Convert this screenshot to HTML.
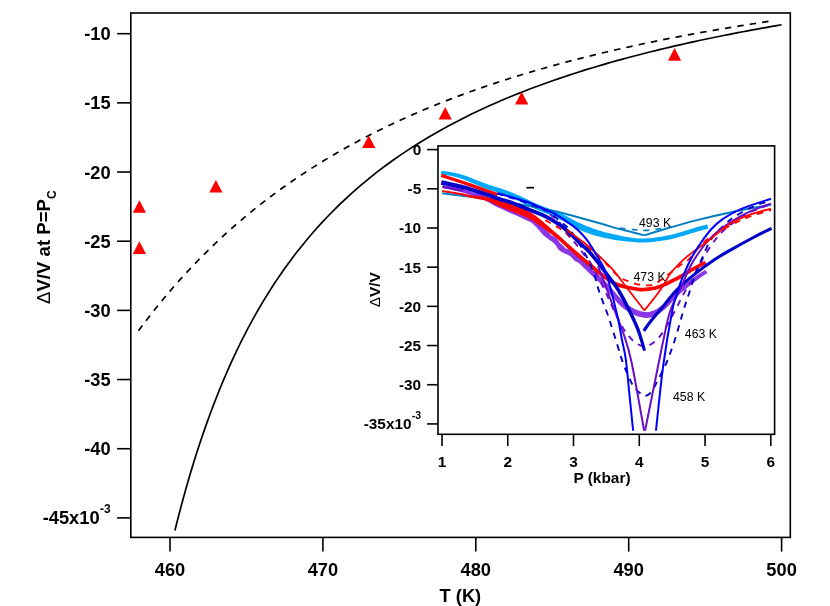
<!DOCTYPE html>
<html><head><meta charset="utf-8"><title>chart</title>
<style>html,body{margin:0;padding:0;background:#fff;overflow:hidden}svg{display:block;will-change:transform}</style>
</head><body>
<svg width="830" height="606" viewBox="0 0 830 606">
<rect width="830" height="606" fill="#fff"/>
<g fill="none" stroke="#000" stroke-width="1.6" stroke-linecap="butt" stroke-linejoin="miter">
<path d="M174.9,530.53L177.02,522.06L179.14,513.81L181.26,505.77L183.38,497.94L185.5,490.3L187.62,482.85L189.74,475.59L191.86,468.51L193.98,461.59L196.1,454.84L198.22,448.25L200.34,441.8L202.46,435.51L204.58,429.36L206.71,423.35L208.83,417.47L210.95,411.72L213.07,406.09L215.19,400.59L217.31,395.2L219.43,389.92L221.55,384.76L223.67,379.7L225.79,374.74L227.91,369.89L230.03,365.13L232.15,360.46L234.27,355.89L236.39,351.4L238.51,347L240.63,342.69L242.75,338.45L244.87,334.3L246.99,330.22L249.11,326.21L251.23,322.28L253.35,318.42L255.47,314.63L257.59,310.91L259.71,307.25L261.83,303.65L263.95,300.12L266.07,296.64L268.19,293.23L270.32,289.87L272.44,286.57L274.56,283.32L276.68,280.13L278.8,276.99L280.92,273.9L283.04,270.85L285.16,267.86L287.28,264.91L289.4,262.01L291.52,259.16L293.64,256.35L295.76,253.58L297.88,250.85L300,248.17L302,245.67L306.84,239.76L311.69,234.06L316.53,228.53L321.38,223.18L326.22,218L331.07,212.98L335.91,208.12L340.76,203.4L345.6,198.82L350.44,194.37L355.29,190.05L360.13,185.86L364.98,181.78L369.82,177.81L374.67,173.95L379.51,170.19L384.36,166.54L389.2,162.98L394.04,159.51L398.89,156.13L403.73,152.83L408.58,149.62L413.42,146.48L418.27,143.42L423.11,140.44L427.96,137.52L432.8,134.68L437.64,131.9L442.49,129.18L447.33,126.52L452.18,123.93L457.02,121.39L461.87,118.9L466.71,116.47L471.56,114.1L476.4,111.77L481.24,109.49L486.09,107.26L490.93,105.07L495.78,102.93L500.62,100.83L505.47,98.78L510.31,96.76L515.16,94.78L520,92.84L524.84,90.94L529.69,89.08L534.53,87.25L539.38,85.45L544.22,83.69L549.07,81.96L553.91,80.26L558.76,78.59L563.6,76.95L568.44,75.34L573.29,73.76L578.13,72.2L582.98,70.68L587.82,69.17L592.67,67.7L597.51,66.25L602.36,64.82L607.2,63.42L612.04,62.03L616.89,60.68L621.73,59.34L626.58,58.02L631.42,56.73L636.27,55.45L641.11,54.2L645.96,52.96L650.8,51.75L655.64,50.55L660.49,49.37L665.33,48.21L670.18,47.07L675.02,45.94L679.87,44.83L684.71,43.73L689.56,42.65L694.4,41.59L699.24,40.54L704.09,39.51L708.93,38.49L713.78,37.48L718.62,36.49L723.47,35.52L728.31,34.55L733.16,33.6L738,32.67L742.84,31.74L747.69,30.83L752.53,29.93L757.38,29.04L762.22,28.16L767.07,27.29L771.91,26.44L776.76,25.6L781.6,24.76" stroke-width="1.7"/>
<path d="M138.5,330.73L142.47,325.41L146.43,320.19L150.4,315.07L154.36,310.05L158.33,305.12L162.29,300.29L166.26,295.54L170.22,290.88L174.19,286.3L178.15,281.81L182.12,277.4L186.08,273.07L190.05,268.81L194.02,264.63L197.98,260.53L201.95,256.49L205.91,252.53L209.88,248.64L213.84,244.81L217.81,241.05L221.77,237.36L225.74,233.73L229.7,230.16L233.67,226.65L237.64,223.2L241.6,219.81L245.57,216.47L249.53,213.19L253.5,209.96L257.46,206.79L261.43,203.67L265.39,200.6L269.36,197.58L273.32,194.61L277.29,191.68L281.25,188.81L285.22,185.97L289.19,183.19L293.15,180.45L297.12,177.75L301.08,175.09L305.05,172.47L309.01,169.9L312.98,167.36L316.94,164.87L320.91,162.41L324.87,159.99L328.84,157.6L332.81,155.26L336.77,152.94L340.74,150.67L344.7,148.42L348.67,146.21L352.63,144.03L356.6,141.89L360.56,139.77L364.53,137.69L368.49,135.64L372.46,133.61L376.42,131.62L380.39,129.65L384.36,127.72L388.32,125.81L392.29,123.92L396.25,122.07L400.22,120.24L404.18,118.43L408.15,116.66L412.11,114.9L416.08,113.17L420.04,111.47L424.01,109.78L427.97,108.12L431.94,106.49L435.91,104.87L439.87,103.28L443.84,101.71L447.8,100.16L451.77,98.63L455.73,97.12L459.7,95.63L463.66,94.16L467.63,92.71L471.59,91.28L475.56,89.87L479.53,88.47L483.49,87.1L487.46,85.74L491.42,84.4L495.39,83.08L499.35,81.77L503.32,80.48L507.28,79.21L511.25,77.95L515.21,76.71L519.18,75.48L523.14,74.27L527.11,73.08L531.08,71.9L535.04,70.73L539.01,69.58L542.97,68.45L546.94,67.32L550.9,66.21L554.87,65.12L558.83,64.03L562.8,62.96L566.76,61.91L570.73,60.86L574.69,59.83L578.66,58.81L582.63,57.81L586.59,56.81L590.56,55.83L594.52,54.86L598.49,53.9L602.45,52.95L606.42,52.01L610.38,51.08L614.35,50.17L618.31,49.26L622.28,48.36L626.25,47.48L630.21,46.6L634.18,45.74L638.14,44.88L642.11,44.04L646.07,43.2L650.04,42.38L654,41.56L657.97,40.75L661.93,39.95L665.9,39.16L669.86,38.38L673.83,37.61L677.8,36.84L681.76,36.09L685.73,35.34L689.69,34.6L693.66,33.87L697.62,33.14L701.59,32.43L705.55,31.72L709.52,31.02L713.48,30.33L717.45,29.64L721.42,28.96L725.38,28.29L729.35,27.63L733.31,26.97L737.28,26.32L741.24,25.68L745.21,25.04L749.17,24.41L753.14,23.78L757.1,23.17L761.07,22.56L765.03,21.95L769,21.35" stroke-width="1.7" stroke-dasharray="6.43 6.127"/>
<rect x="130.8" y="13" width="659.5" height="524.4"/>
<path d="M117.1,33.7 H130.8"/>
<path d="M117.1,102.87 H130.8"/>
<path d="M117.1,172.04 H130.8"/>
<path d="M117.1,241.21 H130.8"/>
<path d="M117.1,310.38 H130.8"/>
<path d="M117.1,379.55 H130.8"/>
<path d="M117.1,448.72 H130.8"/>
<path d="M117.1,517.89 H130.8"/>
<path d="M170,537.4 V551.6"/>
<path d="M322.9,537.4 V551.6"/>
<path d="M475.8,537.4 V551.6"/>
<path d="M628.7,537.4 V551.6"/>
<path d="M781.6,537.4 V551.6"/>
</g>
<g fill="#ff0000">
<path d="M139.42,200.15 L146.02,212.75 L132.82,212.75 Z"/>
<path d="M139.42,241.35 L146.02,253.95 L132.82,253.95 Z"/>
<path d="M215.87,180 L222.47,192.6 L209.27,192.6 Z"/>
<path d="M368.77,135.4 L375.37,148 L362.17,148 Z"/>
<path d="M445.22,106.9 L451.82,119.5 L438.62,119.5 Z"/>
<path d="M521.67,91.8 L528.27,104.4 L515.07,104.4 Z"/>
<path d="M674.57,48.1 L681.17,60.7 L667.97,60.7 Z"/>
</g>
<clipPath id="ic"><rect x="438" y="145.9" width="336.6" height="284.8"/></clipPath>
<rect x="438" y="145.9" width="336.6" height="288.4" fill="#fff"/>
<g clip-path="url(#ic)" fill="none" stroke-linecap="butt" stroke-linejoin="round">
<path d="M440.88,174.12L442.04,174.35L443.49,174.61L445.19,174.91L447.08,175.24L449.13,175.62L451.3,176.05L453.53,176.53L455.79,177.07L458.04,177.66L460.21,178.31L462.4,179.06L464.69,179.92L467.07,180.86L469.51,181.88L472,182.94L474.52,184.02L477.07,185.11L479.62,186.19L482.17,187.23L484.69,188.21L487.19,189.12L489.68,189.99L492.16,190.82L494.63,191.62L497.09,192.43L499.55,193.24L502,194.06L504.45,194.93L506.9,195.84L509.36,196.82L511.85,197.87L514.38,199.01L516.95,200.2L519.53,201.44L522.13,202.7L524.73,203.97L527.31,205.24L529.89,206.48L532.43,207.69L534.94,208.83L537.42,209.91L539.88,210.95L542.31,211.95L544.72,212.92L547.09,213.87L549.41,214.81L551.68,215.73L553.89,216.66L556.03,217.59L558.09,218.54L560.07,219.5L561.97,220.49L563.82,221.49L565.64,222.51L567.43,223.54L569.22,224.56L571.02,225.56L572.84,226.55L574.7,227.51L576.6,228.41L578.49,229.27L580.35,230.09L582.22,230.88L584.09,231.65L585.96,232.39L587.84,233.1L589.73,233.79L591.64,234.44L593.57,235.07L595.52,235.67L597.52,236.23L599.59,236.77L601.67,237.27L603.77,237.73L605.86,238.17L607.92,238.58L609.94,238.96L611.88,239.31L613.74,239.64L615.49,239.95L617.13,240.23L618.67,240.47L620.13,240.68L621.53,240.87L622.89,241.03L624.23,241.18L625.57,241.32L626.93,241.44L628.32,241.56L629.77,241.69L631.21,241.82L632.61,241.97L634.01,242.12L635.43,242.27L636.9,242.41L638.44,242.51L640.05,242.59L641.78,242.62L643.63,242.59L645.62,242.5L647.76,242.35L650.04,242.16L652.44,241.93L654.95,241.65L657.53,241.34L660.17,240.98L662.83,240.59L665.5,240.15L668.14,239.67L670.75,239.15L673.4,238.55L676.15,237.86L678.96,237.09L681.79,236.28L684.59,235.45L687.32,234.62L689.93,233.81L692.38,233.06L694.62,232.39L696.61,231.81L698.39,231.32L700.03,230.87L701.52,230.47L702.87,230.11L704.08,229.79L705.17,229.51L706.14,229.26L706.99,229.04L707.74,228.84L708.38,228.67L707.22,224.33L706.58,224.5L705.85,224.7L704.99,224.93L704.02,225.19L702.93,225.48L701.71,225.81L700.35,226.19L698.85,226.61L697.2,227.07L695.39,227.59L693.36,228.19L691.09,228.89L688.64,229.66L686.04,230.48L683.33,231.33L680.57,232.17L677.8,232.99L675.06,233.76L672.4,234.45L669.85,235.05L667.34,235.57L664.77,236.06L662.17,236.51L659.57,236.93L656.99,237.3L654.47,237.63L652.01,237.92L649.66,238.16L647.44,238.36L645.38,238.5L643.5,238.59L641.78,238.62L640.18,238.59L638.68,238.51L637.25,238.39L635.86,238.25L634.48,238.08L633.1,237.9L631.69,237.7L630.23,237.51L628.81,237.32L627.46,237.12L626.16,236.91L624.89,236.68L623.62,236.43L622.33,236.16L621,235.87L619.6,235.56L618.11,235.22L616.51,234.85L614.79,234.46L612.96,234.04L611.06,233.6L609.1,233.14L607.1,232.66L605.09,232.15L603.08,231.63L601.09,231.08L599.16,230.52L597.28,229.93L595.45,229.32L593.62,228.69L591.81,228.03L590.01,227.35L588.22,226.65L586.42,225.92L584.63,225.17L582.82,224.39L581.01,223.6L579.2,222.79L577.43,221.95L575.68,221.08L573.93,220.17L572.16,219.23L570.37,218.25L568.53,217.26L566.63,216.25L564.67,215.25L562.64,214.25L560.51,213.26L558.32,212.31L556.07,211.39L553.78,210.49L551.46,209.6L549.1,208.7L546.72,207.81L544.32,206.89L541.9,205.95L539.48,204.98L537.06,203.97L534.61,202.9L532.11,201.75L529.56,200.56L526.97,199.32L524.36,198.07L521.73,196.82L519.09,195.59L516.46,194.4L513.84,193.25L511.24,192.18L508.66,191.19L506.11,190.27L503.58,189.4L501.08,188.58L498.59,187.79L496.11,187.01L493.65,186.23L491.2,185.45L488.75,184.64L486.31,183.79L483.84,182.89L481.32,181.93L478.78,180.94L476.22,179.92L473.65,178.9L471.11,177.9L468.6,176.94L466.13,176.04L463.72,175.22L461.39,174.49L459.06,173.85L456.69,173.29L454.32,172.79L452.01,172.36L449.78,171.98L447.69,171.64L445.77,171.35L444.07,171.1L442.65,170.88L441.52,170.68Z" fill="#00a8f8" stroke="none"/>
<path d="M442.2,193.2C445.83,193.67 454.37,194.67 464,196C473.63,197.33 485.55,198.82 500,201.2C514.45,203.58 534.7,206.78 550.7,210.3C566.7,213.82 585.12,219.33 596,222.3C606.88,225.27 610.33,226.55 616,228.1C621.67,229.65 625.28,230.38 630,231.6C634.72,232.82 641.92,234.77 644.3,235.4" stroke="#007dc3" stroke-width="2.0"/>
<path d="M644.3,235.4C646.92,234.58 651.38,233 660,230.5C668.62,228 684.33,223.4 696,220.4C707.67,217.4 718.23,214.98 730,212.5C741.77,210.02 759.77,206.8 766.6,205.5C773.43,204.2 770.27,204.83 771,204.7" stroke="#007dc3" stroke-width="2.0"/>
<path d="M619.5,228.2C621.88,228.45 629.47,229.35 633.8,229.7C638.13,230.05 641.48,230.42 645.5,230.3C649.52,230.18 653.88,229.48 657.9,229C661.92,228.52 667.65,227.67 669.6,227.4" stroke="#007dc3" stroke-width="1.7" stroke-dasharray="6 6"/>
<path d="M442.21,187.97L443.34,188.21L444.84,188.52L446.64,188.88L448.64,189.29L450.77,189.73L452.94,190.19L455.08,190.64L457.09,191.08L458.9,191.49L460.41,191.86L461.65,192.17L462.67,192.45L463.54,192.71L464.29,192.94L464.98,193.18L465.66,193.42L466.4,193.7L467.23,194.01L468.21,194.37L469.38,194.8L470.74,195.28L472.25,195.82L473.88,196.39L475.58,197L477.34,197.64L479.1,198.29L480.83,198.95L482.51,199.59L484.08,200.23L485.51,200.84L486.72,201.39L487.71,201.88L488.56,202.34L489.36,202.8L490.19,203.29L491.11,203.84L492.19,204.45L493.5,205.16L495.08,205.97L497.01,206.9L499.42,208.03L502.32,209.35L505.57,210.82L509.06,212.39L512.64,214L516.2,215.59L519.59,217.11L522.68,218.51L525.35,219.72L527.47,220.7L529.04,221.44L530.21,221.98L531.05,222.37L531.62,222.64L531.96,222.81L531.95,222.87L531.66,222.79L531.57,222.79L531.79,223L532.21,223.35L532.7,223.76L533.23,224.22L533.82,224.75L534.45,225.35L535.1,226L535.76,226.68L536.43,227.37L537.08,228.06L537.73,228.74L538.33,229.39L538.89,229.99L539.39,230.57L539.86,231.14L540.31,231.7L540.74,232.25L541.17,232.78L541.59,233.3L542.02,233.8L542.46,234.29L542.92,234.76L543.41,235.22L543.93,235.68L544.48,236.15L545.06,236.62L545.65,237.08L546.24,237.54L546.83,238L547.41,238.44L547.97,238.87L548.54,239.3L549.11,239.73L549.68,240.11L550.2,240.44L550.67,240.73L551.07,240.98L551.4,241.21L551.66,241.4L551.85,241.56L551.99,241.7L552.15,241.83L552.37,242.02L552.65,242.24L552.95,242.49L553.29,242.79L553.65,243.11L554.02,243.47L554.4,243.86L554.79,244.27L555.18,244.7L555.56,245.14L555.89,245.57L556.19,246.01L556.49,246.48L556.79,246.97L557.09,247.48L557.41,247.99L557.74,248.5L558.09,249.01L558.48,249.49L558.9,249.94L559.32,250.33L559.76,250.69L560.22,251.03L560.69,251.34L561.17,251.64L561.65,251.93L562.14,252.2L562.62,252.46L563.1,252.72L563.61,253L564.16,253.28L564.72,253.53L565.23,253.73L565.69,253.9L566.08,254.05L566.41,254.18L566.66,254.3L566.86,254.41L567,254.49L567.17,254.57L567.41,254.69L567.71,254.83L568.04,254.99L568.39,255.15L568.76,255.34L569.15,255.56L569.55,255.79L569.96,256.05L570.36,256.34L570.76,256.64L571.12,256.96L571.47,257.31L571.83,257.7L572.21,258.12L572.59,258.57L572.98,259.02L573.39,259.48L573.82,259.94L574.28,260.38L574.78,260.81L575.32,261.2L575.85,261.51L576.32,261.72L576.67,261.85L576.93,261.92L577.17,262L577.47,262.14L577.88,262.38L578.43,262.78L579.13,263.36L580,264.15L581.03,265.11L582.17,266.22L583.4,267.43L584.7,268.72L586.04,270.06L587.4,271.42L588.76,272.77L590.09,274.07L591.38,275.31L592.63,276.48L593.86,277.59L595.06,278.66L596.26,279.71L597.44,280.75L598.64,281.82L599.85,282.93L601.09,284.1L602.36,285.36L603.68,286.72L605.07,288.24L606.55,289.94L608.09,291.78L609.68,293.72L611.3,295.7L612.93,297.68L614.55,299.61L616.14,301.45L617.7,303.15L619.2,304.67L620.61,306L621.97,307.2L623.28,308.3L624.56,309.3L625.83,310.22L627.07,311.06L628.31,311.84L629.55,312.57L630.8,313.25L632.07,313.92L633.4,314.56L634.76,315.16L636.13,315.7L637.51,316.2L638.89,316.64L640.26,317.02L641.61,317.34L642.94,317.59L644.25,317.78L645.52,317.89L646.76,317.93L647.96,317.87L649.11,317.73L650.22,317.52L651.28,317.24L652.29,316.91L653.28,316.54L654.24,316.13L655.18,315.7L656.13,315.25L657.1,314.77L658.05,314.26L659,313.72L659.94,313.13L660.88,312.5L661.84,311.81L662.81,311.06L663.81,310.24L664.86,309.35L665.97,308.36L667.14,307.25L668.31,306.03L669.49,304.75L670.68,303.41L671.9,302.03L673.15,300.63L674.44,299.21L675.78,297.79L677.17,296.39L678.63,295.01L680.24,293.59L682.02,292.08L683.91,290.51L685.88,288.91L687.89,287.31L689.89,285.74L691.83,284.22L693.69,282.79L695.41,281.47L696.95,280.28L698.35,279.23L699.69,278.25L700.95,277.34L702.14,276.5L703.25,275.74L704.27,275.05L705.2,274.43L706.03,273.88L706.75,273.39L707.35,272.98L705.25,269.82L704.66,270.19L703.94,270.64L703.1,271.16L702.14,271.75L701.07,272.42L699.91,273.16L698.65,273.98L697.32,274.88L695.91,275.86L694.45,276.92L692.86,278.08L691.11,279.38L689.22,280.79L687.23,282.28L685.19,283.84L683.13,285.43L681.1,287.02L679.14,288.59L677.28,290.12L675.57,291.59L673.97,293.03L672.45,294.5L671.01,295.97L669.64,297.41L668.34,298.82L667.1,300.16L665.91,301.44L664.77,302.62L663.69,303.69L662.63,304.64L661.6,305.51L660.62,306.29L659.7,306.99L658.82,307.62L657.98,308.18L657.17,308.68L656.36,309.14L655.56,309.56L654.73,309.96L653.87,310.35L652.99,310.72L652.14,311.06L651.34,311.35L650.56,311.6L649.81,311.8L649.07,311.95L648.32,312.06L647.56,312.12L646.75,312.14L645.88,312.11L644.92,312.01L643.89,311.87L642.8,311.67L641.66,311.42L640.49,311.11L639.29,310.76L638.09,310.36L636.89,309.91L635.7,309.42L634.53,308.88L633.36,308.31L632.22,307.72L631.09,307.11L629.98,306.46L628.86,305.75L627.73,304.98L626.56,304.13L625.36,303.17L624.11,302.11L622.8,300.93L621.43,299.58L619.97,298.01L618.43,296.27L616.83,294.4L615.21,292.46L613.58,290.5L611.96,288.55L610.36,286.67L608.81,284.9L607.32,283.28L605.9,281.84L604.55,280.51L603.25,279.28L601.98,278.12L600.76,277.02L599.55,275.96L598.37,274.92L597.19,273.87L596.01,272.8L594.82,271.69L593.57,270.48L592.25,269.21L590.9,267.88L589.54,266.54L588.19,265.2L586.88,263.91L585.63,262.68L584.47,261.54L583.41,260.52L582.47,259.64L581.66,258.91L580.97,258.32L580.36,257.84L579.83,257.45L579.35,257.15L578.98,256.93L578.74,256.78L578.6,256.67L578.46,256.57L578.22,256.39L577.87,256.12L577.47,255.82L577.05,255.5L576.61,255.17L576.15,254.82L575.69,254.46L575.22,254.09L574.75,253.71L574.29,253.33L573.84,252.96L573.44,252.61L573.07,252.25L572.71,251.88L572.34,251.51L571.98,251.13L571.6,250.76L571.2,250.4L570.79,250.05L570.34,249.73L569.83,249.43L569.25,249.16L568.65,248.97L568.11,248.86L567.63,248.8L567.22,248.77L566.88,248.76L566.6,248.75L566.37,248.73L566.19,248.69L565.99,248.6L565.74,248.43L565.46,248.2L565.18,247.94L564.9,247.65L564.62,247.33L564.33,247L564.04,246.66L563.74,246.32L563.42,245.98L563.1,245.66L562.78,245.36L562.43,245.06L562.06,244.74L561.67,244.4L561.26,244.05L560.84,243.67L560.43,243.29L560.01,242.88L559.61,242.47L559.24,242.06L558.93,241.66L558.64,241.25L558.36,240.8L558.09,240.33L557.8,239.84L557.5,239.34L557.16,238.83L556.78,238.33L556.35,237.84L555.85,237.37L555.27,236.94L554.66,236.61L554.1,236.38L553.58,236.22L553.13,236.12L552.74,236.03L552.39,235.95L552.07,235.85L551.77,235.71L551.46,235.5L551.11,235.18L550.72,234.77L550.32,234.31L549.91,233.79L549.48,233.24L549.04,232.67L548.58,232.1L548.1,231.52L547.6,230.96L547.08,230.44L546.55,229.97L546.01,229.53L545.47,229.13L544.93,228.75L544.38,228.38L543.83,228L543.29,227.6L542.74,227.18L542.19,226.72L541.67,226.21L541.15,225.65L540.63,225.01L540.09,224.29L539.54,223.52L538.98,222.72L538.39,221.92L537.79,221.13L537.15,220.37L536.47,219.65L535.79,219.05L535.28,218.65L534.94,218.41L534.49,218.16L533.9,217.93L533.5,217.86L533.21,217.84L532.75,217.75L532,217.54L530.89,217.13L529.33,216.5L527.19,215.58L524.5,214.41L521.38,213.06L517.97,211.58L514.41,210.02L510.81,208.45L507.32,206.91L504.06,205.47L501.17,204.18L498.79,203.1L496.91,202.22L495.4,201.47L494.16,200.83L493.14,200.27L492.24,199.76L491.38,199.27L490.5,198.78L489.53,198.28L488.41,197.74L487.09,197.16L485.58,196.54L483.95,195.9L482.23,195.25L480.46,194.6L478.66,193.96L476.89,193.33L475.16,192.74L473.51,192.18L471.99,191.66L470.62,191.2L469.45,190.82L468.47,190.49L467.61,190.21L466.83,189.96L466.07,189.73L465.3,189.52L464.47,189.31L463.54,189.08L462.47,188.83L461.19,188.54L459.62,188.21L457.77,187.84L455.73,187.44L453.57,187.03L451.38,186.62L449.24,186.22L447.23,185.85L445.43,185.52L443.92,185.24L442.79,185.03Z" fill="#8c37e6" stroke="none"/>
<path d="M442.5,186.9C444.08,187.18 448.58,187.93 452,188.6C455.42,189.27 461.17,190.52 463,190.9" stroke="#6a0fc8" stroke-width="2.2"/>
<path d="M540,207C543,209.33 553.5,216.5 558,221C562.5,225.5 564.13,230.3 567,234C569.87,237.7 572.53,240 575.2,243.2C577.87,246.4 580.03,249.23 583,253.2C585.97,257.17 589.25,260.55 593,267C596.75,273.45 601.87,284.35 605.5,291.9C609.13,299.45 611.6,305.82 614.8,312.3C618,318.78 621.4,325.85 624.7,330.8C628,335.75 631.3,339.42 634.6,342C637.9,344.58 641.2,346.3 644.5,346.3C647.8,346.3 651.32,344.38 654.4,342C657.48,339.62 659.7,336.95 663,332C666.3,327.05 670.82,318.55 674.2,312.3C677.58,306.05 680.33,299.95 683.3,294.5C686.27,289.05 689.32,284.55 692,279.6C694.68,274.65 696.23,270.45 699.4,264.8C702.57,259.15 707.02,251.37 711,245.7C714.98,240.03 718.15,235.65 723.3,230.8C728.45,225.95 736.73,220 741.9,216.6C747.07,213.2 749.45,212.47 754.3,210.4C759.15,208.33 768.22,205.23 771,204.2" stroke="#6a0fc8" stroke-width="1.9" stroke-dasharray="6.3 5.9"/>
<path d="M441.3,175.4C446.08,176.97 462.22,182.15 470,184.8C477.78,187.45 483.43,189.68 488,191.3C492.57,192.92 495.83,193.97 497.4,194.5" stroke="#ff0000" stroke-width="3.4"/>
<path d="M441.95,191.94L443.11,192.13L444.65,192.37L446.49,192.66L448.54,192.99L450.72,193.34L452.95,193.7L455.14,194.06L457.2,194.41L459.05,194.74L460.61,195.03L461.85,195.29L462.87,195.53L463.71,195.75L464.45,195.96L465.14,196.17L465.84,196.38L466.6,196.62L467.47,196.86L468.51,197.13L469.76,197.43L471.25,197.74L472.92,198.07L474.73,198.41L476.63,198.76L478.59,199.13L480.55,199.5L482.48,199.89L484.32,200.3L486.02,200.72L487.54,201.14L488.9,201.59L490.17,202.08L491.37,202.59L492.51,203.12L493.61,203.66L494.69,204.21L495.76,204.76L496.84,205.3L497.94,205.83L499.06,206.33L500.13,206.78L501.09,207.18L501.98,207.54L502.83,207.88L503.68,208.22L504.53,208.56L505.45,208.92L506.45,209.32L507.57,209.77L508.86,210.29L510.36,210.89L512.05,211.55L513.87,212.26L515.78,213L517.73,213.77L519.69,214.55L521.61,215.33L523.44,216.1L525.13,216.84L526.65,217.55L528.02,218.24L529.32,218.93L530.55,219.62L531.73,220.31L532.88,221.01L534,221.73L535.11,222.45L536.22,223.19L537.34,223.94L538.46,224.69L539.56,225.44L540.63,226.2L541.7,226.98L542.75,227.76L543.79,228.55L544.81,229.33L545.8,230.1L546.78,230.85L547.73,231.58L548.66,232.28L549.54,232.93L550.37,233.53L551.16,234.11L551.91,234.65L552.65,235.18L553.36,235.71L554.07,236.23L554.77,236.77L555.48,237.32L556.2,237.91L556.93,238.52L557.66,239.16L558.39,239.81L559.12,240.47L559.85,241.15L560.59,241.83L561.32,242.52L562.07,243.21L562.81,243.89L563.56,244.57L564.3,245.24L565.04,245.9L565.77,246.57L566.51,247.23L567.25,247.89L567.99,248.56L568.74,249.23L569.51,249.91L570.29,250.59L571.08,251.29L571.88,251.99L572.66,252.67L573.45,253.35L574.24,254.03L575.04,254.73L575.88,255.44L576.74,256.18L577.64,256.95L578.6,257.76L579.6,258.61L580.68,259.52L581.82,260.49L583.02,261.49L584.25,262.53L585.52,263.6L586.8,264.68L588.1,265.76L589.39,266.83L590.67,267.89L591.92,268.93L593.15,269.95L594.38,270.98L595.62,272.02L596.86,273.07L598.11,274.11L599.37,275.14L600.63,276.16L601.89,277.15L603.16,278.1L604.43,279.01L605.65,279.86L606.82,280.69L607.98,281.51L609.14,282.3L610.33,283.08L611.57,283.83L612.86,284.56L614.23,285.25L615.69,285.91L617.26,286.54L618.99,287.13L620.87,287.68L622.87,288.2L624.93,288.69L627.01,289.14L629.06,289.56L631.05,289.94L632.91,290.27L634.61,290.57L636.09,290.82L637.34,291.03L638.4,291.2L639.33,291.32L640.15,291.41L640.93,291.46L641.68,291.47L642.45,291.45L643.25,291.41L644.14,291.33L645.16,291.24L646.3,291.14L647.49,291.04L648.75,290.92L650.07,290.78L651.45,290.59L652.89,290.36L654.39,290.07L655.94,289.72L657.54,289.28L659.2,288.75L660.93,288.12L662.75,287.39L664.65,286.57L666.6,285.69L668.57,284.76L670.54,283.81L672.49,282.84L674.39,281.87L676.22,280.94L677.96,280.04L679.62,279.15L681.24,278.26L682.81,277.36L684.33,276.45L685.82,275.56L687.27,274.67L688.7,273.8L690.11,272.95L691.51,272.12L692.91,271.31L694.37,270.49L695.91,269.63L697.48,268.76L699.06,267.9L700.6,267.06L702.06,266.27L703.42,265.53L704.63,264.88L705.65,264.32L706.46,263.88L704.74,260.72L703.94,261.15L702.92,261.69L701.7,262.34L700.34,263.06L698.86,263.85L697.31,264.68L695.72,265.54L694.13,266.4L692.58,267.26L691.09,268.09L689.64,268.92L688.21,269.77L686.78,270.63L685.34,271.51L683.9,272.39L682.43,273.27L680.94,274.16L679.42,275.03L677.86,275.9L676.24,276.76L674.53,277.65L672.71,278.58L670.83,279.53L668.91,280.48L666.97,281.42L665.04,282.33L663.16,283.19L661.33,283.97L659.6,284.66L658,285.25L656.49,285.73L655.03,286.13L653.62,286.45L652.25,286.72L650.91,286.93L649.62,287.1L648.37,287.24L647.15,287.36L645.98,287.46L644.84,287.56L643.83,287.65L642.99,287.71L642.28,287.76L641.67,287.77L641.08,287.76L640.47,287.72L639.77,287.65L638.94,287.54L637.93,287.38L636.71,287.18L635.24,286.92L633.56,286.63L631.72,286.3L629.78,285.93L627.77,285.52L625.75,285.08L623.76,284.61L621.86,284.12L620.11,283.6L618.54,283.06L617.14,282.5L615.83,281.91L614.6,281.29L613.43,280.64L612.3,279.95L611.19,279.22L610.08,278.46L608.95,277.67L607.78,276.84L606.57,275.99L605.35,275.12L604.14,274.21L602.93,273.26L601.7,272.27L600.47,271.26L599.24,270.23L598,269.19L596.76,268.15L595.52,267.1L594.28,266.07L593.03,265.04L591.75,263.99L590.47,262.92L589.18,261.84L587.9,260.76L586.63,259.7L585.4,258.66L584.21,257.66L583.07,256.7L582,255.79L580.99,254.93L580.04,254.13L579.14,253.36L578.28,252.63L577.46,251.92L576.65,251.23L575.87,250.55L575.09,249.88L574.31,249.2L573.52,248.51L572.73,247.82L571.96,247.14L571.2,246.46L570.46,245.8L569.72,245.14L568.98,244.48L568.25,243.82L567.52,243.16L566.78,242.49L566.04,241.83L565.3,241.16L564.56,240.49L563.82,239.81L563.08,239.13L562.33,238.45L561.59,237.77L560.84,237.09L560.09,236.42L559.35,235.75L558.6,235.09L557.87,234.45L557.16,233.84L556.46,233.24L555.77,232.66L555.08,232.08L554.38,231.49L553.67,230.89L552.93,230.27L552.16,229.61L551.34,228.92L550.49,228.19L549.61,227.41L548.7,226.6L547.75,225.76L546.77,224.9L545.77,224.03L544.74,223.14L543.69,222.25L542.62,221.37L541.54,220.51L540.49,219.67L539.46,218.82L538.42,217.96L537.35,217.09L536.23,216.21L535.06,215.33L533.82,214.44L532.49,213.57L531.08,212.7L529.55,211.85L527.88,211L526.06,210.15L524.13,209.31L522.14,208.49L520.13,207.68L518.13,206.91L516.19,206.18L514.35,205.49L512.66,204.87L511.14,204.31L509.8,203.83L508.58,203.42L507.49,203.07L506.49,202.78L505.56,202.52L504.68,202.29L503.8,202.06L502.91,201.82L501.96,201.56L500.94,201.27L499.87,200.94L498.81,200.58L497.71,200.2L496.57,199.8L495.39,199.39L494.14,198.98L492.84,198.57L491.46,198.18L490.01,197.8L488.46,197.46L486.79,197.14L484.97,196.85L483.05,196.58L481.06,196.33L479.06,196.09L477.07,195.85L475.15,195.63L473.34,195.41L471.69,195.19L470.24,194.97L469.02,194.76L468.02,194.57L467.19,194.38L466.45,194.2L465.75,194.02L465.03,193.83L464.25,193.64L463.35,193.43L462.28,193.21L460.99,192.97L459.41,192.7L457.54,192.4L455.46,192.07L453.26,191.73L451.03,191.39L448.84,191.06L446.78,190.75L444.94,190.47L443.4,190.24L442.25,190.06Z" fill="#ff0000" stroke="none"/>
<path d="M540.8,217.5C542.33,218.38 546.87,221 550,222.8C553.13,224.6 556.63,226.45 559.6,228.3C562.57,230.15 561.4,229.28 567.8,233.9C574.2,238.52 589.65,249.02 598,256C606.35,262.98 612.52,271.47 617.9,275.8C623.28,280.13 626.18,280.47 630.3,282C634.42,283.53 638.32,284.8 642.6,285C646.88,285.2 649.63,286.57 656,283.2C662.37,279.83 675.22,268.9 680.8,264.8C686.38,260.7 685.5,262.5 689.5,258.6C693.5,254.7 698.13,246.85 704.8,241.4C711.47,235.95 722.28,229.93 729.5,225.9C736.72,221.87 741.18,219.85 748.1,217.2C755.02,214.55 767.18,211.2 771,210" stroke="#ff0000" stroke-width="1.9" stroke-dasharray="6.3 5.9" stroke-dashoffset="7"/>
<path d="M497,193.6C500.83,194.77 511.5,197.62 520,200.6C528.5,203.58 541.5,208.18 548,211.5C554.5,214.82 555.33,217.42 559,220.5C562.67,223.58 566.12,225.3 570,230C573.88,234.7 578.47,241.9 582.3,248.7C586.13,255.5 590.17,263.6 593,270.8C595.83,278 596.7,284.17 599.3,291.9C601.9,299.63 605.62,308.43 608.6,317.2C611.58,325.97 614.83,336.95 617.2,344.5C619.57,352.05 620.93,357.25 622.8,362.5C624.67,367.75 626.65,372.08 628.4,376C630.15,379.92 631.45,383.2 633.3,386C635.15,388.8 637.63,391.15 639.5,392.8C641.37,394.45 642.65,395.9 644.5,395.9C646.35,395.9 648.55,395.07 650.6,392.8C652.65,390.53 654.63,386.32 656.8,382.3C658.97,378.28 661.8,372.42 663.6,368.7C665.4,364.98 665.7,364.87 667.6,360C669.5,355.13 672.33,347.83 675,339.5C677.67,331.17 681.18,317.92 683.6,310C686.02,302.08 687.48,298.1 689.5,292C691.52,285.9 693.63,278.97 695.7,273.4C697.77,267.83 699.35,264.25 701.9,258.6C704.45,252.95 707.43,244.95 711,239.5C714.57,234.05 719.18,229.82 723.3,225.9C727.42,221.98 730.53,219.3 735.7,216C740.87,212.7 748.42,208.68 754.3,206.1C760.18,203.52 768.22,201.43 771,200.5" stroke="#0000c8" stroke-width="1.9" stroke-dasharray="6.3 5.9"/>
<path d="M440.82,184.65L442.03,184.9L443.65,185.22L445.58,185.61L447.73,186.04L450.02,186.5L452.35,186.97L454.64,187.44L456.79,187.89L458.72,188.3L460.33,188.65L461.62,188.93L462.68,189.17L463.55,189.36L464.29,189.53L464.96,189.7L465.62,189.87L466.34,190.07L467.17,190.32L468.18,190.63L469.4,191.01L470.86,191.47L472.51,192.02L474.31,192.62L476.21,193.27L478.17,193.95L480.15,194.63L482.1,195.3L483.97,195.95L485.73,196.55L487.33,197.09L488.78,197.57L490.14,198.03L491.42,198.46L492.65,198.87L493.83,199.26L494.97,199.64L496.09,200.01L497.19,200.36L498.3,200.71L499.41,201.06L500.5,201.38L501.49,201.65L502.41,201.89L503.28,202.11L504.14,202.32L505.02,202.54L505.94,202.79L506.95,203.09L508.08,203.45L509.37,203.89L510.83,204.42L512.43,205.02L514.15,205.68L515.97,206.38L517.85,207.13L519.77,207.89L521.71,208.67L523.65,209.45L525.55,210.22L527.39,210.96L529.23,211.7L531.13,212.47L533.05,213.24L534.98,214.01L536.89,214.79L538.76,215.56L540.56,216.31L542.26,217.04L543.84,217.75L545.28,218.42L546.57,219.05L547.73,219.64L548.77,220.21L549.73,220.76L550.63,221.3L551.49,221.84L552.33,222.38L553.18,222.93L554.05,223.5L554.98,224.1L555.89,224.68L556.73,225.2L557.52,225.69L558.28,226.17L559.03,226.66L559.8,227.19L560.61,227.77L561.5,228.44L562.47,229.23L563.56,230.14L564.79,231.22L566.15,232.45L567.62,233.81L569.15,235.27L570.74,236.78L572.34,238.33L573.93,239.87L575.49,241.38L576.98,242.82L578.39,244.17L579.7,245.41L580.93,246.53L582.09,247.57L583.2,248.57L584.29,249.55L585.38,250.57L586.5,251.65L587.66,252.83L588.9,254.16L590.23,255.67L591.7,257.42L593.29,259.39L594.98,261.53L596.73,263.79L598.5,266.11L600.26,268.45L601.98,270.75L603.62,272.96L605.16,275.02L606.56,276.88L607.82,278.55L608.98,280.06L610.04,281.44L611.03,282.73L611.96,283.97L612.85,285.17L613.72,286.37L614.58,287.62L615.46,288.94L616.38,290.36L617.31,291.86L618.22,293.39L619.13,294.94L620.02,296.53L620.91,298.15L621.81,299.81L622.71,301.52L623.62,303.27L624.55,305.06L625.49,306.91L626.48,308.86L627.51,310.91L628.58,313.06L629.65,315.25L630.73,317.47L631.78,319.67L632.79,321.83L633.75,323.92L634.64,325.91L635.43,327.75L636.14,329.48L636.78,331.15L637.36,332.76L637.9,334.32L638.39,335.82L638.85,337.27L639.28,338.66L639.69,339.99L640.08,341.27L640.47,342.48L640.84,343.62L641.19,344.72L641.51,345.75L641.81,346.74L642.08,347.65L642.32,348.49L642.54,349.26L642.74,349.93L642.91,350.52L643.06,351.01L645.94,350.19L645.81,349.71L645.66,349.13L645.48,348.45L645.28,347.67L645.05,346.81L644.79,345.88L644.52,344.87L644.21,343.81L643.88,342.68L643.53,341.52L643.16,340.32L642.79,339.05L642.4,337.72L641.98,336.31L641.54,334.83L641.05,333.28L640.52,331.67L639.93,329.99L639.28,328.25L638.57,326.45L637.78,324.55L636.89,322.52L635.94,320.39L634.94,318.19L633.9,315.96L632.84,313.72L631.77,311.5L630.71,309.33L629.69,307.25L628.71,305.29L627.76,303.42L626.83,301.61L625.91,299.84L625,298.11L624.09,296.42L623.17,294.77L622.25,293.15L621.32,291.56L620.38,289.99L619.42,288.44L618.47,286.96L617.56,285.59L616.66,284.3L615.76,283.05L614.84,281.81L613.89,280.56L612.9,279.25L611.84,277.87L610.69,276.37L609.44,274.72L608.04,272.86L606.5,270.8L604.85,268.6L603.13,266.29L601.35,263.95L599.57,261.61L597.81,259.33L596.1,257.15L594.47,255.14L592.97,253.33L591.58,251.74L590.3,250.34L589.09,249.07L587.94,247.92L586.82,246.85L585.72,245.82L584.61,244.8L583.47,243.75L582.29,242.64L581.01,241.43L579.63,240.08L578.14,238.64L576.59,237.13L574.99,235.58L573.38,234.03L571.78,232.51L570.22,231.04L568.72,229.65L567.32,228.38L566.04,227.26L564.88,226.29L563.84,225.45L562.88,224.72L561.99,224.08L561.14,223.5L560.33,222.97L559.54,222.47L558.74,221.97L557.91,221.46L557.02,220.9L556.13,220.32L555.26,219.75L554.4,219.19L553.52,218.63L552.62,218.06L551.66,217.48L550.63,216.89L549.5,216.28L548.28,215.65L546.92,214.98L545.41,214.29L543.78,213.56L542.04,212.81L540.22,212.05L538.33,211.27L536.41,210.49L534.47,209.71L532.54,208.94L530.65,208.18L528.81,207.44L526.97,206.69L525.07,205.93L523.13,205.15L521.18,204.37L519.25,203.6L517.35,202.85L515.52,202.14L513.77,201.47L512.14,200.86L510.63,200.31L509.28,199.84L508.08,199.45L506.99,199.13L506.01,198.85L505.09,198.61L504.23,198.38L503.37,198.16L502.51,197.93L501.59,197.66L500.59,197.34L499.52,196.98L498.45,196.61L497.38,196.23L496.29,195.83L495.17,195.42L494,195L492.78,194.55L491.5,194.09L490.13,193.61L488.67,193.11L487.08,192.57L485.31,191.98L483.43,191.36L481.47,190.71L479.48,190.05L477.5,189.41L475.58,188.78L473.76,188.19L472.08,187.66L470.6,187.19L469.36,186.8L468.35,186.49L467.5,186.22L466.74,185.99L466.03,185.78L465.31,185.58L464.53,185.37L463.64,185.14L462.57,184.87L461.27,184.55L459.64,184.16L457.71,183.71L455.55,183.22L453.26,182.71L450.93,182.19L448.65,181.68L446.51,181.2L444.59,180.78L442.98,180.42L441.78,180.15Z" fill="#0000c8" stroke="none"/>
<path d="M643.8,330.8C645.15,328.95 648.48,324.02 651.9,319.7C655.32,315.38 660.1,309.93 664.3,304.9C668.5,299.87 671.87,294.75 677.1,289.5C682.33,284.25 689.5,278.35 695.7,273.4C701.9,268.45 708.67,263.6 714.3,259.8C719.93,256 722.83,254.4 729.5,250.6C736.17,246.8 747.28,240.7 754.3,237C761.32,233.3 768.72,229.83 771.6,228.4" stroke="#0000c8" stroke-width="3.1"/>
<path d="M598,266C599.33,269.5 603.2,279.5 606,287C608.8,294.5 611.9,303.28 614.8,311C617.7,318.72 620.62,324.8 623.4,333.3C626.18,341.8 628.05,345.8 631.5,362C634.95,378.2 641.92,418.5 644.1,430.5C646.28,442.5 644.52,433.42 644.6,434" stroke="#6a0fc8" stroke-width="2.0"/>
<path d="M644.6,434C644.68,433.42 642.65,442.83 645.1,430.5C647.55,418.17 656.32,374.75 659.3,360C662.28,345.25 661.23,350 663,342C664.77,334 666.93,321 669.9,312C672.87,303 677.27,295.83 680.8,288C684.33,280.17 687.1,272.25 691.1,265C695.1,257.75 700.47,249.98 704.8,244.5C709.13,239.02 712.98,235.72 717.1,232.1C721.22,228.48 724.33,226.1 729.5,222.8C734.67,219.5 741.18,215.5 748.1,212.3C755.02,209.1 767.18,205.05 771,203.6" stroke="#6a0fc8" stroke-width="2.0"/>
<path d="M567,230C567.27,230.22 565.87,229.27 568.6,231.3C571.33,233.33 579.32,239 583.4,242.2C587.48,245.4 588.38,246.13 593.1,250.5C597.82,254.87 606.33,262.53 611.7,268.4C617.07,274.27 619.85,278.68 625.3,285.7C630.75,292.72 641.22,306.37 644.4,310.5" stroke="#ff0000" stroke-width="1.8"/>
<path d="M644.4,310.5C647.05,307.08 655.88,296.28 660.3,290C664.72,283.72 667.07,277.83 670.9,272.8C674.73,267.77 679.17,263.62 683.3,259.8C687.43,255.98 691.37,253.2 695.7,249.9C700.03,246.6 703.67,244.32 709.3,240C714.93,235.68 723.03,228.1 729.5,224C735.97,219.9 741.18,217.97 748.1,215.4C755.02,212.83 767.18,209.73 771,208.6" stroke="#ff0000" stroke-width="1.8"/>
<path d="M498,193.2C500,193.8 504.98,195.3 510,196.8C515.02,198.3 522.08,200.03 528.1,202.2C534.12,204.37 541.62,207.87 546.1,209.8C550.58,211.73 551.88,212.07 555,213.8C558.12,215.53 561.92,218.27 564.8,220.2C567.68,222.13 569.82,223.48 572.3,225.4C574.78,227.32 577.23,229.23 579.7,231.7C582.17,234.17 585.12,237.67 587.1,240.2C589.08,242.73 590.12,244.55 591.6,246.9C593.08,249.25 593.93,250.78 596,254.3C598.07,257.82 602,263.8 604,268C606,272.2 606.83,275.83 608,279.5C609.17,283.17 609.83,285.58 611,290C612.17,294.42 613.75,300.83 615,306C616.25,311.17 617.33,315.33 618.5,321C619.67,326.67 620.77,333.5 622,340C623.23,346.5 624.65,350.83 625.9,360C627.15,369.17 628.3,383.25 629.5,395C630.7,406.75 632.43,424 633.1,430.5C633.77,437 633.43,433.42 633.5,434" stroke="#0000ff" stroke-width="2.0"/>
<path d="M655.6,434C655.67,433.42 654.72,442 656,430.5C657.28,419 660.57,385.08 663.3,365C666.03,344.92 670.1,321.97 672.4,310C674.7,298.03 675.28,298.95 677.1,293.2C678.92,287.45 680.82,281.53 683.3,275.5C685.78,269.47 689.13,262.35 692,257C694.87,251.65 697.33,247.98 700.5,243.4C703.67,238.82 707.2,233.62 711,229.5C714.8,225.38 718.15,222.18 723.3,218.7C728.45,215.22 733.95,211.93 741.9,208.6C749.85,205.27 766.15,200.35 771,198.7" stroke="#0000ff" stroke-width="2.0"/>
</g>
<g fill="none" stroke="#000" stroke-width="1.6">
<rect x="438" y="145.9" width="336.6" height="288.4"/>
<path d="M427.1,149.6 H438"/>
<path d="M427.1,188.79 H438"/>
<path d="M427.1,227.98 H438"/>
<path d="M427.1,267.17 H438"/>
<path d="M427.1,306.36 H438"/>
<path d="M427.1,345.55 H438"/>
<path d="M427.1,384.74 H438"/>
<path d="M427.1,423.93 H438"/>
<path d="M442,434.3 V446.1"/>
<path d="M507.76,434.3 V446.1"/>
<path d="M573.52,434.3 V446.1"/>
<path d="M639.28,434.3 V446.1"/>
<path d="M705.04,434.3 V446.1"/>
<path d="M770.8,434.3 V446.1"/>
<path d="M526.4,187.7 H534" stroke-width="1.7"/>
</g>
<g font-family="'Liberation Sans', sans-serif" fill="#000">
<g font-size="18.3" font-weight="bold">
<text x="110.6" y="40.2" text-anchor="end">-10</text>
<text x="110.6" y="109.37" text-anchor="end">-15</text>
<text x="110.6" y="178.54" text-anchor="end">-20</text>
<text x="110.6" y="247.71" text-anchor="end">-25</text>
<text x="110.6" y="316.88" text-anchor="end">-30</text>
<text x="110.6" y="386.05" text-anchor="end">-35</text>
<text x="110.6" y="455.22" text-anchor="end">-40</text>
<text x="99.6" y="524.4" text-anchor="end">-45x10</text>
<text x="110.6" y="513.4" text-anchor="end" font-size="12">-3</text>
<text x="170" y="576.2" text-anchor="middle">460</text>
<text x="322.9" y="576.2" text-anchor="middle">470</text>
<text x="475.8" y="576.2" text-anchor="middle">480</text>
<text x="628.7" y="576.2" text-anchor="middle">490</text>
<text x="781.6" y="576.2" text-anchor="middle">500</text>
<text x="460.4" y="601.8" text-anchor="middle">T (K)</text>
<text transform="translate(49.9,304) rotate(-90)" font-size="18.6"><tspan font-weight="normal">Δ</tspan>V/V at P=P<tspan font-size="12" dy="6">C</tspan></text>
</g>
<g font-size="15.4" font-weight="bold">
<text x="421.2" y="155" text-anchor="end">0</text>
<text x="421.2" y="194.19" text-anchor="end">-5</text>
<text x="421.2" y="233.38" text-anchor="end">-10</text>
<text x="421.2" y="272.57" text-anchor="end">-15</text>
<text x="421.2" y="311.76" text-anchor="end">-20</text>
<text x="421.2" y="350.95" text-anchor="end">-25</text>
<text x="421.2" y="390.14" text-anchor="end">-30</text>
<text x="411.6" y="429.1" text-anchor="end">-35x10</text>
<text x="421.2" y="419.2" text-anchor="end" font-size="10.5">-3</text>
<text x="442" y="466.9" text-anchor="middle">1</text>
<text x="507.76" y="466.9" text-anchor="middle">2</text>
<text x="573.52" y="466.9" text-anchor="middle">3</text>
<text x="639.28" y="466.9" text-anchor="middle">4</text>
<text x="705.04" y="466.9" text-anchor="middle">5</text>
<text x="770.8" y="466.9" text-anchor="middle">6</text>
<text x="602" y="483.2" text-anchor="middle">P (kbar)</text>
<text transform="translate(379.5,307.2) rotate(-90)"><tspan font-weight="normal">Δ</tspan>V/V</text>
</g>
<g font-size="12.3">
<text x="639" y="226.5">493 K</text>
<text x="633.5" y="281.4">473 K</text>
<text x="684.8" y="338.2">463 K</text>
<text x="673" y="400.8">458 K</text>
</g>
</g>
</svg>
</body></html>
